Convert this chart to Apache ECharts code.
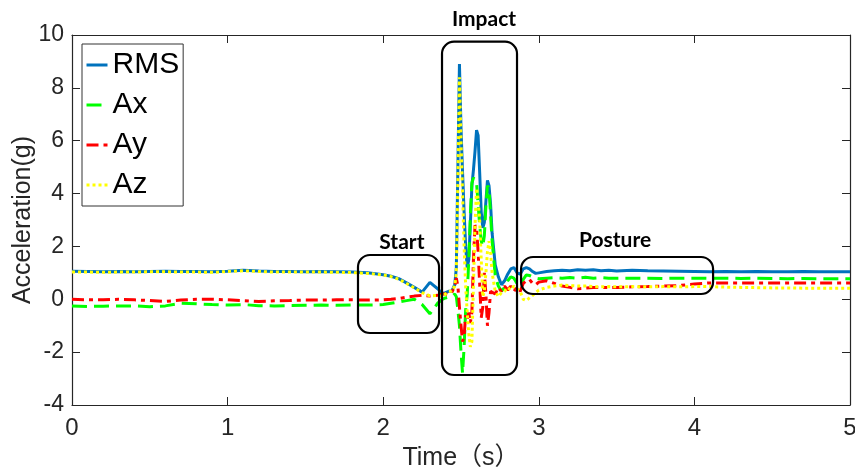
<!DOCTYPE html>
<html>
<head>
<meta charset="utf-8">
<script src="https://cdn.jsdelivr.net/npm/echarts@6/dist/echarts.min.js"></script>
<style>
html, body { margin: 0; padding: 0; background: #fff; }
#chart { width: 855px; height: 472px; }
</style>
</head>
<body>
<div id="chart"></div>
<script>
// sample times (s)
var time = [0, 0.1, 0.2, 0.3, 0.4, 0.5, 0.6, 0.7, 0.8, 0.9, 1.0, 1.1, 1.2, 1.3, 1.4, 1.5, 1.6, 1.7, 1.8, 1.9,
    2.0, 2.05, 2.1, 2.15, 2.2, 2.25, 2.3, 2.35, 2.38,
    2.4, 2.42, 2.44, 2.46,
    2.47, 2.48, 2.49, 2.5, 2.51, 2.52, 2.53, 2.54, 2.55, 2.56, 2.57, 2.58, 2.59, 2.6, 2.61, 2.62, 2.63, 2.64, 2.65, 2.66, 2.67, 2.68, 2.69, 2.7,
    2.72, 2.74, 2.76, 2.78, 2.8, 2.82, 2.84, 2.86, 2.88, 2.9, 2.92, 2.94, 2.96, 2.98, 3.0,
    3.05, 3.1, 3.15, 3.2, 3.25, 3.3, 3.35, 3.4, 3.45, 3.5,
    3.6, 3.7, 3.8, 3.9, 4.0, 4.1, 4.2, 4.3, 4.4, 4.5, 4.6, 4.7, 4.8, 4.9, 5.0];

var rms = [1.06, 1.05, 1.04, 1.05, 1.04, 1.05, 1.06, 1.05, 1.05, 1.04, 1.06, 1.1, 1.07, 1.05, 1.05, 1.04, 1.05, 1.04, 1.03, 1.0,
    0.93, 0.87, 0.78, 0.62, 0.45, 0.27, 0.64, 0.4, 0.22,
    0.25, 0.3, 0.3, 0.55,
    1.2, 5.0, 8.9, 6.5, 4.8, 3.3, 2.0, 1.2, 1.5, 2.8, 4.3, 4.9, 5.6, 6.4, 6.2, 4.8, 3.3, 2.7, 2.9, 3.7, 4.5, 4.3, 3.6, 2.5,
    1.3, 0.85, 0.55, 0.7, 0.95, 1.15, 1.2, 1.0, 0.95, 1.15, 1.2, 1.15, 1.05, 0.98, 1.0,
    1.05, 1.08, 1.1, 1.08, 1.12, 1.1, 1.12, 1.08, 1.1, 1.07,
    1.1, 1.08, 1.07, 1.06, 1.05, 1.04, 1.05, 1.04, 1.05, 1.04, 1.04, 1.05, 1.04, 1.04, 1.04];

var ax = [-0.25, -0.27, -0.26, -0.25, -0.25, -0.28, -0.25, -0.15, -0.17, -0.2, -0.22, -0.2, -0.24, -0.25, -0.24, -0.23, -0.22, -0.23, -0.22, -0.22,
    -0.2, -0.15, -0.1, -0.05, 0.0, -0.2, -0.55, -0.15, 0.0,
    0.05, 0.08, 0.1, 0.2,
    0.1, -0.4, -1.0, -2.0, -2.8, -1.8, -0.4, 0.2, 1.5, 3.2, 4.4, 4.6, 4.6, 4.4, 3.6, 2.8, 2.2, 2.0, 2.4, 3.5, 4.3, 4.2, 3.2, 2.2,
    0.9, 0.5, 0.3, 0.45, 0.7, 0.85, 0.8, 0.6, 0.5, 0.75, 0.92, 0.9, 0.85, 0.8, 0.78,
    0.8, 0.82, 0.8, 0.82, 0.8, 0.83, 0.8, 0.82, 0.8, 0.8,
    0.8, 0.8, 0.79, 0.8, 0.8, 0.79, 0.8, 0.79, 0.8, 0.79, 0.78, 0.79, 0.78, 0.78, 0.78];

var ay = [0.0, -0.02, -0.02, 0.0, -0.02, -0.05, -0.08, -0.03, 0.0, 0.0, -0.02, -0.05, -0.08, -0.06, -0.05, -0.03, -0.03, -0.02, -0.02, -0.03,
    -0.02, 0.0, 0.03, 0.08, 0.12, 0.15, 0.12, 0.15, 0.2,
    0.2, 0.18, 0.25, 0.5,
    0.8, 0.5, -0.3, -1.0, -1.6, -1.4, -0.6, -0.8, -0.5, -0.9, -0.5, 1.5, 2.8, 2.7, 1.8, 0.6, -0.7, -0.3, 1.0, 0.2, -1.0, -0.5, 0.3, 0.3,
    0.2, 0.45, 0.3, 0.5, 0.35, 0.5, 0.3, 0.45, 0.3, 0.6, 0.7, 0.75, 0.6, 0.55, 0.65,
    0.7, 0.6, 0.5, 0.45, 0.4, 0.42, 0.45, 0.45, 0.45, 0.45,
    0.47, 0.48, 0.5, 0.52, 0.58, 0.62, 0.62, 0.62, 0.62, 0.62, 0.62, 0.62, 0.62, 0.62, 0.62];

var az = [1.03, 1.03, 1.02, 1.03, 1.03, 1.04, 1.04, 1.03, 1.03, 1.02, 1.05, 1.08, 1.05, 1.03, 1.03, 1.03, 1.03, 1.02, 1.01, 0.98,
    0.92, 0.86, 0.76, 0.6, 0.43, 0.25, 0.13, 0.15, 0.1,
    0.2, 0.3, 0.3, 0.5,
    1.0, 4.5, 8.4, 6.0, 4.0, 2.0, 0.5, -0.5, -1.3, -1.8, -1.6, 0.5, 2.8, 4.2, 3.8, 3.0, 1.5, 0.1, 0.3, 1.0, 1.8, 2.2, 1.8, 1.0,
    0.3, 0.1, 0.25, 0.3, 0.45, 0.35, 0.5, 0.4, 0.3, 0.0, -0.05, 0.05, 0.15, 0.25, 0.35,
    0.45, 0.5, 0.54, 0.52, 0.5, 0.5, 0.48, 0.47, 0.48, 0.47,
    0.48, 0.47, 0.48, 0.47, 0.48, 0.48, 0.46, 0.45, 0.44, 0.43, 0.43, 0.42, 0.42, 0.42, 0.42];

var seriesNames = ['RMS', 'Ax', 'Ay', 'Az'];

// annotation boxes, in data units (time, g)
var boxNames = ['Start', 'Impact', 'Posture'];
var boxFrom = [[1.838, 1.675], [2.378, 9.746], [2.886, 1.60]];
var boxTo = [[2.359, -1.276], [2.860, -2.865], [4.120, 0.20]];
var boxTitleAt = [[2.12, 2.17], [2.648, 10.6], [3.49, 2.24]];

function pairs(vals) {
    return time.map(function (t, i) { return [t, vals[i]]; });
}

var chart = echarts.init(document.getElementById('chart'));

var axisColor = '#262626';
var narrow = "'Liberation Sans Narrow', 'Liberation Sans', Arial, 'Noto Sans CJK SC', sans-serif";

function tickAxis(extra) {
    var a = {
        type: 'value',
        axisLine: { show: true, onZero: false, lineStyle: { color: axisColor, width: 1.2 } },
        axisTick: { show: true, inside: true, length: 8, lineStyle: { color: axisColor } },
        splitLine: { show: false }
    };
    for (var k in extra) a[k] = extra[k];
    return a;
}

var option = {
    animation: false,
    backgroundColor: '#fff',
    grid: { left: 72, right: 5, top: 35, bottom: 67, containLabel: false, outerBoundsMode: 'none' },
    legend: {
        data: seriesNames,
        orient: 'vertical',
        left: 82,
        top: 44,
        padding: [6, 4, 6, 3],
        itemGap: 10,
        itemWidth: 21,
        itemHeight: 10,
        backgroundColor: '#fff',
        borderColor: '#333',
        borderWidth: 1,
        itemStyle: { opacity: 0 },
        lineStyle: { width: 3 },
        textStyle: { fontSize: 30, lineHeight: 30, color: '#000', fontFamily: "'Liberation Sans', Arial, sans-serif" }
    },
    xAxis: [
        tickAxis({
            min: 0, max: 5, interval: 1,
            name: 'Time（s）', nameLocation: 'middle', nameGap: 41, nameMoveOverlap: false,
            nameTextStyle: { fontSize: 25, color: axisColor, fontFamily: narrow },
            axisLabel: { fontSize: 24, color: axisColor, margin: 11, fontFamily: narrow }
        }),
        tickAxis({ min: 0, max: 5, interval: 1, position: 'top', axisLabel: { show: false } })
    ],
    yAxis: [
        tickAxis({
            min: -4, max: 10, interval: 2,
            name: 'Acceleration(g)', nameLocation: 'middle', nameGap: 36, nameMoveOverlap: false,
            nameTextStyle: { fontSize: 25, color: axisColor, fontFamily: narrow },
            axisLabel: { fontSize: 23, color: axisColor, margin: 8, fontFamily: "'Liberation Sans', Arial, sans-serif" }
        }),
        tickAxis({ min: -4, max: 10, interval: 2, position: 'right', axisLabel: { show: false } })
    ],
    series: [{
        name: 'RMS', type: 'line', symbol: 'none', data: pairs(rms),
        lineStyle: { color: '#0072BD', width: 3 }, itemStyle: { color: '#0072BD' }
    }, {
        name: 'Ax', type: 'line', symbol: 'none', data: pairs(ax),
        lineStyle: { color: '#00FF00', width: 3, type: [15, 7] }, itemStyle: { color: '#00FF00' }
    }, {
        name: 'Ay', type: 'line', symbol: 'none', data: pairs(ay),
        lineStyle: { color: '#FF0000', width: 3, type: [12, 5, 4, 5] }, itemStyle: { color: '#FF0000' }
    }, {
        name: 'Az', type: 'line', symbol: 'none', data: pairs(az),
        lineStyle: { color: '#FFFF00', width: 3, type: [3, 3] }, itemStyle: { color: '#FFFF00' }
    }]
};

chart.setOption(option);

// rounded boxes and their titles
var shapes = [];
boxNames.forEach(function (name, i) {
    var p0 = chart.convertToPixel({ seriesIndex: 0 }, boxFrom[i]);
    var p1 = chart.convertToPixel({ seriesIndex: 0 }, boxTo[i]);
    var pt = chart.convertToPixel({ seriesIndex: 0 }, boxTitleAt[i]);
    shapes.push({
        type: 'rect', z: 100,
        shape: { x: p0[0], y: p0[1], width: p1[0] - p0[0], height: p1[1] - p0[1], r: 12 },
        style: { fill: null, stroke: '#000', lineWidth: 2.2 }
    });
    shapes.push({
        type: 'text', z: 100, x: pt[0], y: pt[1],
        style: { text: name, fontSize: 21, fontWeight: 'bold', fontFamily: 'Lato, Carlito, sans-serif', fill: '#000', align: 'center', verticalAlign: 'middle' }
    });
});
chart.setOption({ graphic: shapes });
</script>
</body>
</html>
